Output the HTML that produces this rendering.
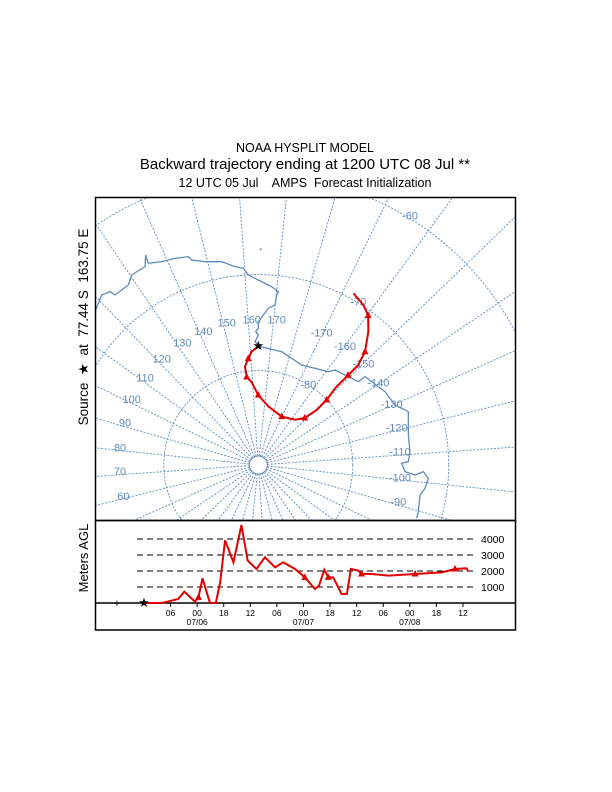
<!DOCTYPE html>
<html style="overflow:hidden;width:612px;height:792px"><head><meta charset="utf-8"><style>
html,body{margin:0;padding:0;background:#fff;width:612px;height:792px;overflow:hidden}
svg{display:block;font-family:"Liberation Sans",sans-serif}
text{white-space:pre}
</style></head><body>
<svg width="612" height="792" viewBox="0 0 612 792" xmlns="http://www.w3.org/2000/svg">
<text x="305" y="152" font-size="12.5" text-anchor="middle">NOAA HYSPLIT MODEL</text>
<text x="305" y="169" font-size="15" text-anchor="middle">Backward trajectory ending at 1200 UTC 08 Jul **</text>
<text x="305" y="187" font-size="12.5" text-anchor="middle" xml:space="preserve">12 UTC 05 Jul    AMPS  Forecast Initialization</text>
<text transform="translate(88,327) rotate(-90)" font-size="13.5" text-anchor="middle" xml:space="preserve">Source  ★  at  77.44 S  163.75 E</text>
<text transform="translate(88,558) rotate(-90)" font-size="13" text-anchor="middle">Meters AGL</text>
<defs><clipPath id="mapclip"><rect x="96" y="198" width="419" height="322"/></clipPath></defs>
<g id="map" clip-path="url(#mapclip)"></g>
<rect x="95.5" y="197.5" width="420" height="323" fill="none" stroke="#000" stroke-width="1.5"/>
<g id="alt"></g>
<rect x="95.5" y="520.5" width="420" height="109.5" fill="none" stroke="#000" stroke-width="1.5"/>
</svg>
<script>
const trajLon=[164,160.6,158.6,156.3,156.5,159.4,164,173.7,189.8,203.2,208.6,210.7,210.4,209,209,209,207.3,203.5,200.3,197.3,193];
const trajLat=[-77.44,-78.0,-78.7,-79.5,-80.6,-81.2,-82.6,-83.7,-84.3,-83.8,-83.0,-81.5,-80.0,-78.5,-76.6,-75.1,-73.6,-71.8,-70.5,-69.9,-69.4];
const altHours=[0,4.0,6.2,7.7,9.1,11.5,12.3,13.2,14.9,16.2,17.2,18.3,20.2,22.0,23.4,25.4,27.3,29.6,31.4,34.1,36.3,38.6,39.5,40.7,41.6,42.7,44.6,45.8,46.7,48.4,49.1,51.4,55.2,61.2,67.2,70.2,72.8,73.2];
const altMeters=[0,0,146,250,708,83,354,1542,0,0,1292,3917,2542,4875,2646,2125,2854,2229,2542,2125,1604,875,1083,2083,1604,1604,562,562,2125,2021,1812,1812,1708,1812,1917,2125,2167,1958];
const altTicks=[1000,2000,3000,4000];
const timeTicks=[6,12,18,24,30,36,42,48,54,60,66,72];
const timeLabels=["06","00","18","12","06","00","18","12","06","00","18","12"];
const dateTicks=[12,36,60];
const dateLabels=["07/06","07/07","07/08"];
const latCircles=[-80,-70,-60];
const NS='http://www.w3.org/2000/svg';
const BLUE='#5f8bbb';
function mk(tag,attrs,parent){const e=document.createElementNS(NS,tag);for(const k in attrs)e.setAttribute(k,attrs[k]);parent.appendChild(e);return e;}
const PX=258.3,PY=465,K=1080;
const BX0=96,BY0=198,BX1=515,BY1=520;
function rOf(lat){return K*Math.tan((90+lat)/2*Math.PI/180);}
function proj(lon,lat){const r=rOf(lat),t=(lon-164)*Math.PI/180;return [PX+r*Math.sin(t),PY-r*Math.cos(t)];}
function clipSeg(a,b){let t0=0,t1=1;const dx=b[0]-a[0],dy=b[1]-a[1];
const p=[-dx,dx,-dy,dy],q=[a[0]-BX0,BX1-a[0],a[1]-BY0,BY1-a[1]];
for(let i=0;i<4;i++){if(p[i]===0){if(q[i]<0)return null;}else{const r=q[i]/p[i];if(p[i]<0){if(r>t1)return null;if(r>t0)t0=r;}else{if(r<t0)return null;if(r<t1)t1=r;}}}
return [[a[0]+t0*dx,a[1]+t0*dy],[a[0]+t1*dx,a[1]+t1*dy]];}
const map=document.getElementById('map');
latCircles.forEach(l=>{const c=mk('circle',{cx:PX,cy:PY,r:rOf(l),fill:'none',stroke:BLUE,'stroke-width':0.9,'stroke-dasharray':'2,1.5'},map);

});
const pc=mk('circle',{cx:PX,cy:PY,r:9,fill:'none',stroke:BLUE,'stroke-width':0.9},map);


for(let lon=0;lon<360;lon+=10){const s=clipSeg(proj(lon,-89.05),proj(lon,-40));if(!s)continue;
const m=mk('line',{x1:s[0][0],y1:s[0][1],x2:s[1][0],y2:s[1][1],stroke:BLUE,'stroke-width':0.9,'stroke-dasharray':'2,1.5'},map);

}
const coast=[[0,350],[20,300],[45,290],[60,300],[100,270],[110,240],[150,215],[152,180],[160,205],[200,200],[240,190],[280,185],[290,195],[330,200],[380,200],[420,215],[445,220],[460,240],[490,255],[530,275],[550,290],[545,300],[540,330],[520,340],[505,360],[490,380],[490,400],[482,410],[490,420],[480,440],[495,455],[560,470],[620,510],[700,530],[720,525],[760,545],[790,560],[810,545],[830,560],[870,590],[900,630],[940,650],[940,720],[945,770],[940,800],[920,805],[930,830],[960,840],[985,830],[1000,850],[990,880],[975,900],[970,950],[965,970]];
const cl=mk('polyline',{points:coast.map(p=>(95+p[0]/3)+','+(195+p[1]/3)).join(' '),fill:'none',stroke:BLUE,'stroke-width':1.3},map);


const isl=mk('circle',{cx:95+497/3,cy:195+163/3,r:1,fill:BLUE},map);


const mlabels=[["-60",945,62],["-70",790,320],["-80",640,568],["150",395,383],["160",470,373],["170",545,373],["140",325,408],["130",262,443],["120",200,490],["110",150,547],["100",110,612],["90",90,682],["80",75,757],["70",75,828],["60",85,903],["-170",680,413],["-160",750,453],["-150",805,505],["-140",850,562],["-130",890,627],["-120",905,698],["-110",915,770],["-100",915,848],["-90",910,920]];
mlabels.forEach(m=>{const t=mk('text',{x:95+m[1]/3,y:195+m[2]/3+4,'font-size':11,fill:BLUE,'text-anchor':'middle'},map);t.textContent=m[0];

});
const tp=trajLon.map((l,i)=>proj(l,trajLat[i]));
const tl=mk('polyline',{points:tp.map(p=>p.join(',')).join(' '),fill:'none',stroke:'#e00000','stroke-width':2},map);


function tri(x,y,parent,name){const t=mk('polygon',{points:`${x},${y-4} ${x-3.5},${y+2.5} ${x+3.5},${y+2.5}`,fill:'#e00000'},parent);

}
[2,4,6,8,10,12,14,16,18].forEach(i=>tri(tp[i][0],tp[i][1],map,'trajectory-marker'));
function star(x,y,parent){const s=mk('text',{x:x,y:y+4,'font-size':13,'text-anchor':'middle',fill:'#000'},parent);s.textContent='★';

}
star(tp[0][0],tp[0][1],map);
const alt=document.getElementById('alt');
const X0=144,XS=4.43,Y0=603,YS=0.016;
const xh=h=>X0+h*XS, ym=m=>Y0-m*YS;
altTicks.forEach(v=>{const l=mk('line',{x1:137,x2:475,y1:ym(v),y2:ym(v),stroke:'#000','stroke-width':1,'stroke-dasharray':'6,4'},alt);


const t=mk('text',{x:481,y:ym(v)+4,'font-size':10.5},alt);t.textContent=v;

});
const bl=mk('line',{x1:95,x2:516,y1:Y0,y2:Y0,stroke:'#000','stroke-width':1.5},alt);


timeTicks.forEach((h,i)=>{const tk=mk('line',{x1:xh(h),x2:xh(h),y1:Y0,y2:Y0+4,stroke:'#000'},alt);


const t=mk('text',{x:xh(h),y:Y0+13,'font-size':8.5,'text-anchor':'middle'},alt);t.textContent=timeLabels[i];

});
dateTicks.forEach((h,i)=>{const t=mk('text',{x:xh(h),y:Y0+22,'font-size':8.5,'text-anchor':'middle'},alt);t.textContent=dateLabels[i];

});
const plus=mk('text',{x:117,y:Y0+4,'font-size':11,'text-anchor':'middle'},alt);plus.textContent='+';


const al=mk('polyline',{points:altHours.map((h,i)=>xh(h)+','+ym(altMeters[i])).join(' '),fill:'none',stroke:'#e00000','stroke-width':2},alt);


[6,20,24,30,33,35].forEach(i=>tri(xh(altHours[i]),ym(altMeters[i]),alt,'altitude-marker'));
star(xh(0),ym(0),alt);
</script>
</body></html>
